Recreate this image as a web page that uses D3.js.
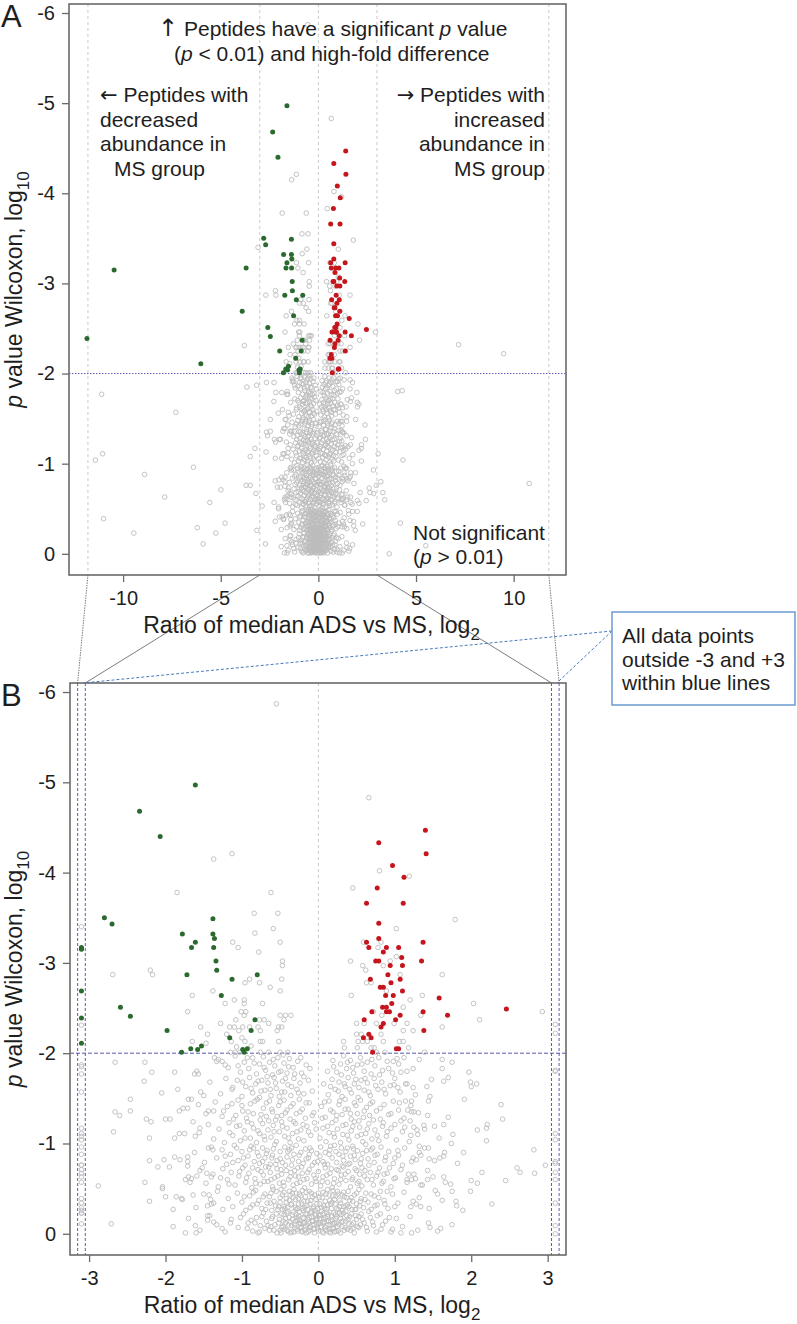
<!DOCTYPE html>
<html><head><meta charset="utf-8">
<script src="https://cdn.jsdelivr.net/npm/d3@7"></script>
<style>
body{margin:0;background:#fff}
text{font-family:"Liberation Sans",Arial,Helvetica,sans-serif;fill:#1e1e1e}
</style>
</head><body>
<svg id="chart" width="797" height="1324"></svg>
<script>
// ---------- DATA (x = log2 ratio ADS vs MS, y = log10 p value) ----------
const greenPoints = [
[-1.61,-4.97],[-2.34,-4.68],[-2.07,-4.40],[-2.80,-3.50],[-2.70,-3.43],[-1.38,-3.49],[-1.78,-3.32],[-1.38,-3.32],
[-1.36,-3.27],[-1.61,-3.23],[-1.66,-3.17],[-1.37,-3.17],[-1.34,-3.02],[-1.33,-2.92],[-1.72,-2.87],[-1.13,-2.82],
[-0.80,-2.87],[-1.27,-2.64],[-2.59,-2.51],[-2.46,-2.41],[-0.83,-2.37],[-0.88,-2.25],[-1.98,-2.25],[-1.16,-2.17],
[-1.53,-2.08],[-1.67,-2.05],[-1.58,-2.04],[-1.79,-2.01],[-0.99,-2.04],[-0.93,-2.05],[-0.97,-2.01],
[-11.85,-2.39],[-10.46,-3.15],[-6.02,-2.11],[-3.70,-3.17],[-3.90,-2.69]
];
const redPoints = [
[1.40,-4.47],[0.79,-4.33],[1.41,-4.21],[0.97,-4.08],[1.12,-3.95],[0.77,-3.83],[0.63,-3.66],[1.11,-3.66],
[0.79,-3.44],[0.79,-3.27],[0.63,-3.23],[1.37,-3.23],[0.66,-3.17],[0.89,-3.17],[1.05,-3.17],[0.85,-3.12],
[1.09,-3.06],[0.75,-3.02],[0.79,-3.02],[1.35,-3.02],[0.94,-2.97],[1.10,-2.97],[0.91,-2.87],[0.68,-2.82],
[1.07,-2.82],[0.95,-2.78],[0.81,-2.73],[0.85,-2.73],[1.10,-2.69],[0.88,-2.64],[0.98,-2.64],[1.58,-2.61],
[0.96,-2.55],[2.46,-2.49],[0.84,-2.51],[0.89,-2.51],[0.70,-2.46],[0.89,-2.46],[0.93,-2.46],[1.37,-2.46],
[1.07,-2.42],[1.69,-2.42],[0.60,-2.37],[1.01,-2.37],[0.85,-2.33],[0.82,-2.29],[1.38,-2.25],[0.66,-2.21],
[0.59,-2.17],[0.69,-2.17],[1.02,-2.05],[1.05,-2.05],[0.71,-2.01]
];
const greyOutliers = [
[-11.42,-1.04],[-11.05,-1.11],[-11.0,-0.39],[-11.1,-1.77],[-7.3,-1.57],[-6.4,-0.96],[-8.9,-0.88],[-7.87,-0.63],
[-4.99,-0.71],[-5.56,-0.57],[-4.78,-0.34],[-5.25,-0.23],[-6.2,-0.29],[-5.9,-0.11],[-9.45,-0.23],[-3.7,-0.76],
[-3.49,-0.76],[-3.49,-1.08],[-3.25,-1.17],[-3.66,-1.85],[-3.16,-1.87],[-3.79,-2.31],[-3.09,-3.4],[-3.2,-0.67],
[-3.15,-0.26],
[4.06,-1.8],[4.29,-1.81],[7.18,-2.32],[9.49,-2.22],[4.33,-1.04],[3.06,-1.11],[3.4,-0.6],[4.2,-0.34],[3.63,0],
[5.5,-0.09],[10.8,-0.78],[3.2,-0.8],[3.3,-0.68]
];
const greyUpper = [
[-0.55,-5.87],[-1.13,-4.21],[-1.37,-4.15],[-1.85,-3.78],[-0.62,-3.78],[-0.84,-3.55],[-0.53,-3.55],[-0.59,-3.38],
[-0.83,-3.33],[-0.5,-3.23],[-1.12,-3.23],[-1.05,-3.17],[-0.78,-3.12],[-0.47,-3.02],[-0.47,-2.97],[-2.69,-2.87],
[-2.2,-2.92],[-2.17,-2.87],[-0.48,-2.82],[-0.96,-2.78],[-0.9,-2.82],[-0.77,-2.78],[-0.63,-2.73],[-0.5,-2.69],
[-1.38,-2.69],[-1.65,-2.64],[-1.22,-2.55],[-1.1,-2.59],[-0.97,-2.59],[-0.97,-2.55],[-0.73,-2.55],[-1.71,-2.46],
[-1.01,-2.46],[-0.95,-2.46],[-0.97,-2.42],[-0.5,-2.42],[-0.43,-2.42],[-0.36,-2.42],[-0.45,-2.37],[-0.77,-2.37],
[-0.71,-2.37],[-1.08,-2.37],[-1.28,-2.33],[-1.16,-2.29],[-1.1,-2.29],[-0.99,-2.29],[-0.9,-2.29],[-0.79,-2.29],
[-0.65,-2.33],[-1.54,-2.29],[-0.52,-2.29],[-0.48,-2.29],[-1.04,-2.25],[-0.76,-2.25],[-0.54,-2.25],[-1.45,-2.21],
[-1.2,-2.21],[-1.14,-2.13],[-1.0,-2.17],[-0.96,-2.13],[-0.76,-2.13],[-0.73,-2.13],[-0.52,-2.13],[-1.65,-2.13],
[-1.47,-2.11],[-1.07,-2.07],[-0.88,-2.08],[-1.15,-2.01],[-1.09,-2.01],[-1.03,-2.01],[-0.76,-2.01],[-0.65,-2.01],
[-0.5,-2.01],[-0.4,-2.01],
[0.66,-4.83],[0.8,-4.02],[1.19,-3.96],[0.45,-3.83],[1.79,-3.48],[1.02,-3.38],[0.59,-3.23],[0.78,-3.17],
[0.82,-3.23],[0.42,-3.02],[0.94,-3.02],[1.02,-3.07],[0.58,-2.97],[0.62,-2.92],[0.85,-2.97],[1.62,-2.87],
[1.07,-2.87],[0.63,-2.78],[0.69,-2.78],[0.43,-2.64],[0.89,-2.69],[1.36,-2.64],[1.2,-2.59],[2.03,-2.55],
[2.93,-2.46],[2.11,-2.37],[1.11,-2.51],[0.72,-2.46],[0.83,-2.42],[1.34,-2.42],[0.5,-2.33],[0.6,-2.33],
[0.76,-2.33],[0.99,-2.33],[1.16,-2.33],[1.62,-2.29],[1.11,-2.25],[1.24,-2.25],[0.5,-2.21],[0.56,-2.21],
[0.82,-2.21],[0.33,-2.13],[0.52,-2.13],[0.58,-2.13],[0.64,-2.13],[0.85,-2.13],[1.06,-2.13],[1.11,-2.13],
[0.34,-2.06],[0.51,-2.06],[0.69,-2.06],[0.73,-2.06],[1.18,-2.06],[1.39,-2.01],[0.87,-2.01],[0.76,-2.01]
];
const greySparse = [
[-2.66,-1.9],[-2.27,-1.9],[-2.18,-1.79],[-1.88,-1.79],[-2.28,-1.69],[-2.05,-1.56],[-1.84,-1.6],[-2.46,-1.49],
[-2.46,-1.36],[-2.66,-1.35],[-2.6,-1.31],[-2.68,-1.13],[-2.25,-1.27],[-2.19,-1.24],[-2.0,-1.27],[-1.94,-1.27],
[-2.21,-1.06],[-2.88,-0.53],[-2.71,-0.11],[-2.21,-0.81],[-2.27,-0.57],[-2.21,-0.36],[-2.1,-0.74],[-2.02,-0.82],
[-1.95,-0.74],[-2.04,-0.52],[-2.04,-0.5],[-2.0,-0.41],[-1.86,-0.41],[-1.79,-0.39],[-1.9,-0.27],[-1.74,-0.01],
[-1.61,-0.09],[-1.6,-0.01],[-1.88,-1.06],[-1.88,-0.85],[-1.81,-0.82],[-1.71,-0.85],[-1.82,-1.11],[-1.75,-1.11],
[-1.82,-1.36],[-1.77,-1.39],[-1.71,-1.39],[-1.7,-1.49],[-1.66,-1.49],[-1.64,-1.24],[-1.57,-1.43],[-1.55,-1.17],
[-1.61,-1.08],[-1.71,-0.8],[-1.71,-0.75],[-1.66,-0.61],[-1.59,-0.64],[-1.74,-0.6],[-1.68,-0.57],[-1.64,-0.43],
[-1.52,-0.73],[-1.54,-1.57],[-1.5,-1.53],[-1.62,-1.77],[-1.59,-1.8],[-1.57,-1.77],[-1.44,-1.36],[-1.37,-1.36],
[-1.44,-0.95],[-1.38,-0.93],[-1.46,-0.67],[-1.4,-0.63],[-1.43,-0.43],[-1.41,-0.38],[-1.45,-0.31],[-1.45,-0.2],
[-1.45,-0.15],[-1.37,-0.34],[-1.37,-0.13],[-1.26,-0.06],[-1.15,-0.12],[-1.36,-1.95],[-1.33,-1.91],[-1.26,-1.91],
[-1.22,-1.87],
[1.97,-1.79],[1.99,-1.68],[2.07,-1.66],[2.0,-1.63],[2.39,-1.43],[2.41,-1.27],[1.91,-1.49],[1.75,-1.9],
[1.62,-1.93],[1.62,-1.83],[1.7,-1.73],[1.64,-1.69],[1.48,-1.71],[1.42,-1.63],[1.46,-1.52],[1.44,-1.47],
[1.32,-1.93],[1.24,-1.83],[1.7,-1.29],[1.64,-1.21],[1.52,-1.19],[1.43,-1.31],[1.39,-1.16],[1.58,-1.06],
[1.76,-1.1],[1.74,-1.0],[1.9,-0.9],[1.65,-0.9],[1.64,-0.86],[1.59,-0.84],[1.52,-0.81],[1.82,-0.78],
[2.08,-1.15],[2.2,-1.17],[2.2,-1.03],[2.21,-1.21],[2.82,-0.93],[2.97,-0.76],[2.6,-0.73],[2.64,-0.68],
[2.83,-0.67],[2.45,-0.59],[2.14,-0.68],[2.0,-0.59],[2.08,-0.56],[1.99,-0.47],[2.27,-0.33],[1.8,-0.36],
[1.81,-0.31],[1.89,-0.26],[1.64,-0.63],[1.73,-0.55],[1.66,-0.57],[1.53,-0.48],[1.56,-0.44],[1.75,-0.47],
[1.43,-0.7],[1.43,-0.6],[1.46,-0.07],[1.56,-0.03],[1.75,-0.1],[1.08,-0.01],[1.22,-0.01],[1.24,-0.36],
[1.28,-0.33],[1.34,-0.3],[1.16,-0.6],[1.22,-0.6],[1.27,-0.61],[1.34,-0.54],[1.24,-0.84],[1.28,-0.82],
[1.34,-0.87],[1.39,-0.95],[1.44,-0.95],[1.32,-0.97],[1.21,-1.09],[1.25,-1.18],[1.29,-1.15],[1.08,-1.25],
[1.2,-1.25],[1.14,-1.47],[1.22,-1.47],[1.22,-1.35],[1.25,-1.35],[1.24,-1.62],[1.14,-1.66],[1.04,-1.62],
[1.08,-1.79],[0.98,-1.91],[1.12,-1.95]
];
const greyCore = [
[-1.31,-1.93],[-1.18,-1.84],[-1.09,-1.97],[-1.02,-1.79],[-0.97,-1.9],[-0.91,-1.83],[-0.86,-1.95],[-0.81,-1.77],
[-0.77,-1.88],[-0.72,-1.96],[-0.69,-1.81],[-0.64,-1.9],[-0.6,-1.76],[-0.57,-1.86],[-0.53,-1.95],[-0.49,-1.8],
[-0.45,-1.89],[-0.41,-1.78],[-0.38,-1.94],[-0.33,-1.84],[-0.27,-1.91],[-0.22,-1.78],[-0.16,-1.87],
[0.12,-1.8],[0.19,-1.92],[0.24,-1.79],[0.29,-1.88],[0.33,-1.97],[0.37,-1.83],[0.42,-1.92],[0.46,-1.78],
[0.51,-1.87],[0.55,-1.95],[0.6,-1.8],[0.64,-1.9],[0.69,-1.77],[0.74,-1.86],[0.79,-1.95],[0.84,-1.81],
[0.9,-1.91],[0.97,-1.78],[1.05,-1.88],[1.16,-1.8],
[-1.42,-1.68],[-1.28,-1.55],[-1.21,-1.72],[-1.13,-1.6],[-1.06,-1.7],[-1.0,-1.52],[-0.95,-1.63],[-0.9,-1.73],
[-0.86,-1.56],[-0.82,-1.66],[-0.77,-1.51],[-0.74,-1.7],[-0.7,-1.59],[-0.66,-1.67],[-0.62,-1.53],[-0.58,-1.73],
[-0.55,-1.61],[-0.51,-1.52],[-0.47,-1.69],[-0.44,-1.57],[-0.4,-1.65],[-0.36,-1.53],[-0.32,-1.72],[-0.28,-1.6],
[-0.24,-1.67],[-0.19,-1.55],[-0.13,-1.7],[-0.08,-1.58],
[0.07,-1.66],[0.13,-1.54],[0.18,-1.71],[0.22,-1.6],[0.27,-1.68],[0.31,-1.52],[0.35,-1.63],[0.39,-1.73],
[0.43,-1.56],[0.47,-1.66],[0.52,-1.51],[0.56,-1.7],[0.6,-1.59],[0.64,-1.67],[0.68,-1.53],[0.73,-1.72],
[0.78,-1.6],[0.83,-1.68],[0.88,-1.55],[0.94,-1.64],[1.0,-1.72],[1.07,-1.57],[1.16,-1.66],[1.27,-1.54],
[-1.47,-1.33],[-1.35,-1.46],[-1.26,-1.3],[-1.19,-1.41],[-1.11,-1.27],[-1.05,-1.48],[-0.99,-1.36],[-0.94,-1.28],
[-0.89,-1.44],[-0.85,-1.33],[-0.8,-1.49],[-0.76,-1.26],[-0.72,-1.39],[-0.68,-1.3],[-0.64,-1.47],[-0.6,-1.35],
[-0.56,-1.26],[-0.52,-1.42],[-0.48,-1.31],[-0.45,-1.48],[-0.41,-1.37],[-0.37,-1.27],[-0.33,-1.44],[-0.29,-1.33],
[-0.25,-1.49],[-0.21,-1.38],[-0.17,-1.28],[-0.12,-1.45],[-0.06,-1.34],
[0.04,-1.41],[0.09,-1.29],[0.14,-1.47],[0.19,-1.35],[0.23,-1.26],[0.27,-1.43],[0.31,-1.32],[0.35,-1.49],
[0.39,-1.38],[0.43,-1.27],[0.47,-1.45],[0.51,-1.33],[0.55,-1.48],[0.59,-1.29],[0.63,-1.4],[0.67,-1.31],
[0.71,-1.46],[0.76,-1.36],[0.81,-1.27],[0.86,-1.43],[0.92,-1.32],[0.98,-1.47],[1.05,-1.37],[1.12,-1.28],
[1.21,-1.42],[1.31,-1.34],
[-1.56,-1.12],[-1.44,-1.21],[-1.37,-1.05],[-1.3,-1.16],[-1.23,-1.01],[-1.17,-1.23],[-1.12,-1.09],[-1.07,-1.19],
[-1.02,-1.03],[-0.97,-1.14],[-0.93,-1.24],[-0.89,-1.06],[-0.85,-1.17],[-0.81,-1.01],[-0.77,-1.11],[-0.73,-1.22],
[-0.7,-1.04],[-0.66,-1.15],[-0.62,-1.07],[-0.59,-1.2],[-0.55,-1.02],[-0.51,-1.13],[-0.48,-1.24],[-0.44,-1.08],
[-0.41,-1.17],[-0.37,-1.01],[-0.34,-1.11],[-0.3,-1.22],[-0.26,-1.05],[-0.23,-1.15],[-0.19,-1.03],[-0.15,-1.19],
[-0.1,-1.09],[-0.05,-1.23],
[0.02,-1.06],[0.06,-1.17],[0.1,-1.02],[0.14,-1.12],[0.18,-1.23],[0.21,-1.07],[0.25,-1.16],[0.29,-1.01],
[0.32,-1.1],[0.36,-1.21],[0.4,-1.04],[0.43,-1.14],[0.47,-1.24],[0.51,-1.08],[0.54,-1.18],[0.58,-1.02],
[0.62,-1.11],[0.66,-1.22],[0.7,-1.05],[0.74,-1.15],[0.79,-1.03],[0.84,-1.19],[0.89,-1.08],[0.95,-1.17],
[1.02,-1.04],[1.1,-1.13],[1.19,-1.02],[1.3,-1.1],[1.38,-1.2],
[-1.62,-0.9],[-1.49,-0.79],[-1.4,-0.96],[-1.33,-0.84],[-1.26,-0.93],[-1.2,-0.77],[-1.15,-0.88],[-1.1,-0.98],
[-1.05,-0.81],[-1.0,-0.91],[-0.96,-0.76],[-0.92,-0.86],[-0.88,-0.97],[-0.84,-0.8],[-0.8,-0.9],[-0.77,-0.78],
[-0.73,-0.95],[-0.7,-0.84],[-0.67,-0.92],[-0.63,-0.77],[-0.6,-0.87],[-0.57,-0.99],[-0.54,-0.81],[-0.5,-0.91],
[-0.47,-0.79],[-0.44,-0.96],[-0.41,-0.85],[-0.38,-0.93],[-0.35,-0.76],[-0.32,-0.88],[-0.29,-0.98],[-0.26,-0.8],
[-0.23,-0.9],[-0.2,-0.78],[-0.17,-0.94],[-0.13,-0.84],[-0.09,-0.92],[-0.05,-0.79],[-0.02,-0.89],
[0.03,-0.96],[0.06,-0.8],[0.09,-0.9],[0.12,-0.77],[0.15,-0.93],[0.18,-0.84],[0.21,-0.98],[0.24,-0.79],
[0.27,-0.88],[0.3,-0.95],[0.33,-0.81],[0.36,-0.91],[0.39,-0.77],[0.42,-0.86],[0.45,-0.97],[0.48,-0.82],
[0.51,-0.92],[0.55,-0.78],[0.58,-0.89],[0.62,-0.99],[0.65,-0.83],[0.69,-0.93],[0.73,-0.79],[0.77,-0.88],
[0.82,-0.96],[0.87,-0.81],[0.92,-0.91],[0.98,-0.78],[1.05,-0.87],[1.13,-0.95],[1.22,-0.8],[1.32,-0.9],[1.45,-0.83],
[-1.7,-0.63],[-1.55,-0.7],[-1.47,-0.56],[-1.38,-0.66],[-1.31,-0.52],[-1.25,-0.72],[-1.19,-0.6],[-1.14,-0.68],
[-1.09,-0.54],[-1.04,-0.64],[-0.99,-0.73],[-0.95,-0.57],[-0.91,-0.67],[-0.87,-0.51],[-0.83,-0.61],[-0.79,-0.71],
[-0.76,-0.55],[-0.72,-0.65],[-0.69,-0.74],[-0.66,-0.58],[-0.63,-0.68],[-0.6,-0.52],[-0.57,-0.62],[-0.54,-0.72],
[-0.51,-0.56],[-0.48,-0.66],[-0.45,-0.53],[-0.42,-0.7],[-0.39,-0.6],[-0.36,-0.68],[-0.33,-0.54],[-0.3,-0.64],
[-0.27,-0.73],[-0.24,-0.57],[-0.21,-0.67],[-0.18,-0.51],[-0.15,-0.61],[-0.12,-0.71],[-0.09,-0.55],[-0.06,-0.65],
[-0.03,-0.58],
[0.0,-0.69],[0.03,-0.53],[0.06,-0.63],[0.09,-0.73],[0.12,-0.57],[0.15,-0.67],[0.18,-0.51],[0.21,-0.61],
[0.24,-0.71],[0.27,-0.55],[0.3,-0.65],[0.33,-0.74],[0.36,-0.59],[0.39,-0.69],[0.42,-0.52],[0.45,-0.62],
[0.48,-0.72],[0.51,-0.56],[0.54,-0.66],[0.57,-0.53],[0.61,-0.7],[0.64,-0.6],[0.68,-0.68],[0.72,-0.54],
[0.76,-0.64],[0.8,-0.73],[0.85,-0.58],[0.9,-0.67],[0.95,-0.52],[1.01,-0.62],[1.08,-0.71],[1.16,-0.57],
[1.25,-0.66],[1.36,-0.54],[1.5,-0.63],
[-1.78,-0.38],[-1.6,-0.29],[-1.5,-0.44],[-1.4,-0.33],[-1.32,-0.47],[-1.25,-0.27],[-1.18,-0.39],[-1.12,-0.3],
[-1.06,-0.45],[-1.0,-0.35],[-0.95,-0.26],[-0.9,-0.42],[-0.86,-0.32],[-0.82,-0.48],[-0.78,-0.37],[-0.74,-0.28],
[-0.7,-0.44],[-0.67,-0.34],[-0.64,-0.41],[-0.61,-0.26],[-0.58,-0.36],[-0.55,-0.47],[-0.52,-0.3],[-0.5,-0.4],
[-0.47,-0.27],[-0.45,-0.46],[-0.42,-0.35],[-0.4,-0.29],[-0.37,-0.43],[-0.35,-0.33],[-0.32,-0.49],[-0.3,-0.38],
[-0.27,-0.28],[-0.25,-0.44],[-0.22,-0.34],[-0.2,-0.26],[-0.17,-0.41],[-0.15,-0.31],[-0.12,-0.47],[-0.1,-0.37],
[-0.07,-0.28],[-0.05,-0.43],[-0.02,-0.33],
[-0.62,-0.45],[-0.56,-0.31],[-0.49,-0.49],[-0.44,-0.28],[-0.38,-0.37],[-0.34,-0.45],[-0.29,-0.27],[-0.26,-0.39],
[-0.21,-0.48],[-0.18,-0.29],[-0.14,-0.36],[-0.09,-0.45],[-0.04,-0.26],
[0.01,-0.4],[0.04,-0.29],[0.06,-0.46],[0.09,-0.36],[0.11,-0.27],[0.14,-0.43],[0.16,-0.33],[0.19,-0.48],
[0.21,-0.38],[0.24,-0.28],[0.26,-0.44],[0.29,-0.34],[0.31,-0.26],[0.34,-0.41],[0.36,-0.31],[0.39,-0.47],
[0.41,-0.37],[0.44,-0.27],[0.47,-0.43],[0.5,-0.33],[0.53,-0.49],[0.56,-0.39],[0.59,-0.29],[0.62,-0.45],
[0.65,-0.35],[0.69,-0.27],[0.73,-0.42],[0.77,-0.32],[0.81,-0.47],[0.86,-0.37],[0.91,-0.28],[0.97,-0.44],
[1.04,-0.34],[1.12,-0.46],[1.21,-0.3],[1.32,-0.4],[1.45,-0.28],[1.62,-0.37],
[0.07,-0.31],[0.12,-0.49],[0.18,-0.35],[0.23,-0.42],[0.28,-0.3],[0.33,-0.46],[0.38,-0.32],[0.43,-0.4],
[0.49,-0.27],[0.55,-0.36],
[-1.9,-0.08],[-1.7,-0.17],[-1.55,-0.04],[-1.42,-0.2],[-1.33,-0.1],[-1.22,-0.02],[-1.14,-0.16],[-1.05,-0.07],
[-0.98,-0.22],[-0.92,-0.12],[-0.86,-0.03],[-0.81,-0.18],[-0.76,-0.09],[-0.72,-0.23],[-0.68,-0.14],[-0.64,-0.04],
[-0.6,-0.19],[-0.57,-0.1],[-0.54,-0.01],[-0.51,-0.16],[-0.48,-0.07],[-0.45,-0.21],[-0.43,-0.12],[-0.4,-0.03],
[-0.38,-0.18],[-0.35,-0.09],[-0.33,-0.24],[-0.3,-0.14],[-0.28,-0.05],[-0.26,-0.2],[-0.23,-0.11],[-0.21,-0.02],
[-0.19,-0.17],[-0.17,-0.08],[-0.15,-0.22],[-0.13,-0.13],[-0.11,-0.04],[-0.09,-0.19],[-0.07,-0.1],[-0.05,-0.01],
[-0.03,-0.15],[-0.01,-0.06],
[-0.62,-0.08],[-0.55,-0.22],[-0.5,-0.04],[-0.46,-0.14],[-0.41,-0.23],[-0.37,-0.01],[-0.34,-0.16],[-0.31,-0.07],
[-0.29,-0.21],[-0.25,-0.12],[-0.22,-0.03],[-0.2,-0.18],[-0.18,-0.12],[-0.16,-0.01],[-0.14,-0.16],[-0.12,-0.07],
[-0.1,-0.23],[-0.08,-0.14],[-0.06,-0.05],[-0.04,-0.2],[-0.02,-0.11],[-0.24,-0.07],[-0.27,-0.15],[-0.32,-0.02],
[-0.39,-0.1],[-0.44,-0.05],[-0.7,-0.06],[-0.79,-0.01],[-0.88,-0.15],
[0.0,-0.03],[0.02,-0.17],[0.04,-0.08],[0.06,-0.22],[0.08,-0.13],[0.1,-0.04],[0.12,-0.19],[0.14,-0.1],
[0.16,-0.01],[0.18,-0.15],[0.2,-0.06],[0.22,-0.21],[0.24,-0.12],[0.26,-0.03],[0.29,-0.17],[0.31,-0.08],
[0.33,-0.23],[0.36,-0.14],[0.38,-0.05],[0.41,-0.19],[0.44,-0.1],[0.47,-0.01],[0.5,-0.16],[0.53,-0.07],
[0.56,-0.22],[0.6,-0.12],[0.64,-0.03],[0.68,-0.18],[0.72,-0.09],[0.77,-0.2],[0.82,-0.05],[0.88,-0.14],
[0.95,-0.02],[1.02,-0.17],[1.1,-0.08],[1.2,-0.19],[1.3,-0.04],[1.44,-0.12],[1.6,-0.06],
[0.01,-0.12],[0.03,-0.21],[0.05,-0.02],[0.07,-0.16],[0.09,-0.07],[0.11,-0.24],[0.13,-0.14],[0.15,-0.05],
[0.17,-0.2],[0.19,-0.11],[0.21,-0.02],[0.23,-0.17],[0.25,-0.08],[0.28,-0.23],[0.3,-0.13],[0.34,-0.04],
[0.37,-0.2],[0.4,-0.11],[0.45,-0.06],[0.49,-0.2],[0.55,-0.1]
];
const greyDense = [
[-1.12,-1.62],[-1.05,-1.86],[-0.99,-1.68],[-0.93,-1.95],[-0.88,-1.61],[-0.84,-1.89],[-0.79,-1.69],[-0.75,-1.58],
[-0.71,-1.84],[-0.67,-1.74],[-0.63,-1.6],[-0.59,-1.93],[-0.56,-1.67],[-0.52,-1.79],[-0.48,-1.57],[-0.46,-1.98],
[-0.43,-1.72],[-0.39,-1.85],[-0.35,-1.63],[-0.31,-1.77],[-0.26,-1.56],[-0.23,-1.95],[-0.19,-1.74],[-0.11,-1.83],
[0.16,-1.63],[0.2,-1.85],[0.26,-1.58],[0.3,-1.76],[0.34,-1.66],[0.38,-1.9],[0.41,-1.6],[0.45,-1.84],
[0.49,-1.71],[0.53,-1.62],[0.57,-1.88],[0.61,-1.72],[0.66,-1.57],[0.7,-1.93],[0.75,-1.64],[0.8,-1.76],
[0.86,-1.6],[0.92,-1.83],[0.99,-1.65],[1.03,-1.94],
[-1.24,-1.36],[-1.16,-1.12],[-1.13,-1.44],[-1.08,-1.31],[-1.03,-1.2],[-1.0,-1.42],[-0.96,-1.06],[-0.92,-1.35],
[-0.87,-1.22],[-0.83,-1.47],[-0.79,-1.14],[-0.75,-1.32],[-0.71,-1.08],[-0.68,-1.45],[-0.65,-1.25],[-0.61,-1.38],
[-0.58,-1.13],[-0.54,-1.3],[-0.5,-1.46],[-0.47,-1.19],[-0.43,-1.34],[-0.39,-1.06],[-0.36,-1.41],[-0.32,-1.24],
[-0.28,-1.13],[-0.24,-1.35],[-0.2,-1.21],[-0.16,-1.45],[-0.13,-1.13],[-0.08,-1.31],[-0.03,-1.16],
[0.05,-1.28],[0.08,-1.46],[0.12,-1.19],[0.16,-1.37],[0.2,-1.11],[0.24,-1.31],[0.28,-1.47],[0.32,-1.2],
[0.35,-1.38],[0.38,-1.09],[0.42,-1.33],[0.45,-1.19],[0.49,-1.42],[0.53,-1.25],[0.56,-1.1],[0.6,-1.36],
[0.64,-1.16],[0.68,-1.44],[0.72,-1.26],[0.77,-1.09],[0.81,-1.39],[0.85,-1.23],[0.9,-1.13],[0.95,-1.33],
[1.0,-1.21],[1.06,-1.45],[1.13,-1.18],[1.17,-1.37],
[-1.28,-0.62],[-1.22,-0.86],[-1.17,-0.55],[-1.12,-0.79],[-1.07,-0.95],[-1.03,-0.69],[-0.98,-0.84],[-0.94,-0.62],
[-0.9,-0.93],[-0.86,-0.73],[-0.82,-0.56],[-0.78,-0.86],[-0.75,-0.69],[-0.71,-0.58],[-0.68,-0.89],[-0.65,-0.74],
[-0.62,-0.6],[-0.59,-0.94],[-0.56,-0.77],[-0.53,-0.64],[-0.5,-0.83],[-0.46,-0.57],[-0.43,-0.76],[-0.4,-0.91],
[-0.37,-0.63],[-0.34,-0.82],[-0.31,-0.7],[-0.28,-0.56],[-0.25,-0.87],[-0.22,-0.74],[-0.19,-0.6],[-0.16,-0.83],
[-0.14,-0.68],[-0.11,-0.95],[-0.08,-0.76],[-0.04,-0.61],[-0.01,-0.8],
[-0.85,-0.95],[-0.73,-0.8],[-0.61,-0.84],[-0.49,-0.71],[-0.35,-0.95],[-0.26,-0.63],[-0.12,-0.88],
[0.02,-0.86],[0.05,-0.58],[0.08,-0.77],[0.11,-0.65],[0.14,-0.88],[0.17,-0.72],[0.2,-0.56],[0.23,-0.91],
[0.26,-0.7],[0.29,-0.6],[0.32,-0.86],[0.35,-0.66],[0.38,-0.95],[0.41,-0.78],[0.44,-0.6],[0.47,-0.87],
[0.5,-0.7],[0.53,-0.58],[0.56,-0.83],[0.6,-0.64],[0.63,-0.92],[0.66,-0.76],[0.7,-0.6],[0.74,-0.87],
[0.78,-0.68],[0.83,-0.56],[0.88,-0.85],[0.93,-0.73],[0.99,-0.61],[1.04,-0.92],[1.1,-0.76],[1.18,-0.66],
[0.16,-0.97],[0.31,-0.75],[0.46,-0.94],[0.57,-0.73],[0.71,-0.95],[0.86,-0.66],[1.0,-0.84],
[-1.02,-0.18],[-0.97,-0.41],[-0.93,-0.06],[-0.89,-0.29],[-0.85,-0.46],[-0.83,-0.12],[-0.8,-0.33],[-0.77,-0.02],
[-0.74,-0.19],[-0.72,-0.41],[-0.69,-0.27],[-0.66,-0.09],[-0.63,-0.34],[-0.61,-0.17],[-0.59,-0.49],[-0.58,-0.04],
[0.58,-0.16],[0.61,-0.38],[0.63,-0.07],[0.66,-0.25],[0.69,-0.44],[0.71,-0.13],[0.74,-0.31],[0.76,-0.02],
[0.79,-0.4],[0.81,-0.22],[0.84,-0.1],[0.87,-0.33],[0.9,-0.47],[0.93,-0.18],[0.97,-0.05],[1.0,-0.3],
[-0.53,-0.27],[-0.52,-0.12],[-0.5,-0.35],[-0.49,-0.01],[-0.48,-0.22],[-0.47,-0.43],[-0.46,-0.08],[-0.45,-0.3],
[-0.43,-0.17],[-0.42,-0.39],[-0.41,-0.04],[-0.4,-0.25],[-0.38,-0.47],[-0.37,-0.13],[-0.36,-0.32],[-0.35,-0.02],
[-0.34,-0.21],[-0.33,-0.4],[-0.31,-0.1],[-0.3,-0.29],[-0.29,-0.45],[-0.28,-0.18],[-0.27,-0.03],[-0.26,-0.33],
[-0.25,-0.24],[-0.24,-0.15],[-0.23,-0.42],[-0.22,-0.07],[-0.21,-0.28],[-0.2,-0.12],[-0.19,-0.36],[-0.18,-0.04],
[-0.17,-0.22],[-0.16,-0.46],[-0.15,-0.1],[-0.14,-0.27],[-0.13,-0.02],[-0.12,-0.18],[-0.11,-0.33],[-0.1,-0.08],
[-0.09,-0.25],[-0.08,-0.41],[-0.07,-0.14],[-0.06,-0.3],[-0.05,-0.06],[-0.04,-0.22],[-0.03,-0.38],[-0.02,-0.17],
[-0.01,-0.28],[0.0,-0.11],[0.0,-0.45],
[0.01,-0.2],[0.02,-0.33],[0.03,-0.07],[0.04,-0.25],[0.05,-0.4],[0.06,-0.13],[0.07,-0.01],[0.08,-0.28],
[0.09,-0.18],[0.1,-0.44],[0.11,-0.09],[0.12,-0.32],[0.13,-0.21],[0.14,-0.02],[0.15,-0.37],[0.16,-0.14],
[0.17,-0.28],[0.18,-0.06],[0.19,-0.42],[0.2,-0.23],[0.21,-0.12],[0.22,-0.33],[0.23,-0.03],[0.24,-0.19],
[0.25,-0.47],[0.26,-0.27],[0.27,-0.1],[0.28,-0.37],[0.29,-0.01],[0.3,-0.21],[0.31,-0.43],[0.32,-0.14],
[0.33,-0.3],[0.35,-0.07],[0.36,-0.25],[0.37,-0.4],[0.39,-0.16],[0.4,-0.3],[0.42,-0.04],[0.43,-0.22],
[0.45,-0.36],[0.46,-0.12],[0.48,-0.27],[0.5,-0.45],[0.51,-0.08],[0.53,-0.19],[0.54,-0.31]
];
const xTicksA = [-10,-5,0,5,10];
const xTicksB = [-3,-2,-1,0,1,2,3];
const yTicks = [-6,-5,-4,-3,-2,-1,0];
const guideLinesA = [-11.8,-3,0,3,11.8];   // grey dashed verticals in panel A
const guideLinesB = [0];                   // grey dashed vertical in panel B
const clampLinesB = [-3.15,-3.05,3.05,3.15]; // blue dashed verticals in panel B
const zoomFromA = [-11.8,-3,3,11.8];       // connector lines A -> B
const zoomToB = [-3.15,-3.05,3.05,3.15];
const pCutoff = -2;
const clampValue = 3.1;
const calloutLines = ["All data points","outside -3 and +3","within blue lines"];
const calloutTargets = [-3.08,3.12];

// ---------- LAYOUT ----------
const svg = d3.select("#chart");
const yDomain = [-6.1, 0.235];
const xA = d3.scaleLinear().domain([-12.77,12.68]).range([69,566]);
const yA = d3.scaleLinear().domain(yDomain).range([4,575]);
const xB = d3.scaleLinear().domain([-3.25,3.24]).range([70,566]);
const yB = d3.scaleLinear().domain(yDomain).range([683,1255]);

const allGrey = greyOutliers.concat(greyUpper, greySparse, greyCore, greyDense);
const clampX = v => v > 3 ? clampValue : (v < -3 ? -clampValue : v);

const GREY = "#bcbcbc", GREEN = "#2b6a2f", RED = "#c4161c";
const TICKFS = 20, ANNFS = 21, TITLEFS = 23;
const ARROWFONT = '"DejaVu Sans",sans-serif';

function drawPanel(g, x, y, xt, opts){
  const [x0,x1] = x.range(), [y0,y1] = y.range();
  g.selectAll(".gl").data(opts.guides).join("line")
    .attr("x1", d=>x(d)).attr("x2", d=>x(d)).attr("y1", y0).attr("y2", y1)
    .attr("stroke", "#c9c9c9").attr("stroke-width", 1).attr("stroke-dasharray", "3,3");
  if (opts.clampLines) {
    g.selectAll(".cl").data(opts.clampLines).join("line")
      .attr("x1", d=>x(d)).attr("x2", d=>x(d)).attr("y1", y0).attr("y2", y1)
      .attr("stroke", "#5c5cae").attr("stroke-width", 1).attr("stroke-dasharray", "3,2");
  }
  g.append("line").attr("x1", x0).attr("x2", x1).attr("y1", y(pCutoff)).attr("y2", y(pCutoff))
    .attr("stroke", opts.cutColor).attr("stroke-width", 1).attr("stroke-dasharray", opts.cutDash);
  const fx = opts.clamp ? (d => x(clampX(d[0]))) : (d => x(d[0]));
  g.append("g").selectAll("circle").data(allGrey).join("circle")
    .attr("cx", fx).attr("cy", d=>y(d[1])).attr("r", 2.3)
    .attr("fill", "none").attr("stroke", GREY).attr("stroke-width", 0.9);
  g.append("g").selectAll("circle").data(greenPoints).join("circle")
    .attr("cx", fx).attr("cy", d=>y(d[1])).attr("r", 2.5).attr("fill", GREEN);
  g.append("g").selectAll("circle").data(redPoints).join("circle")
    .attr("cx", fx).attr("cy", d=>y(d[1])).attr("r", 2.5).attr("fill", RED);
  g.append("rect").attr("x", x0).attr("y", y0).attr("width", x1-x0).attr("height", y1-y0)
    .attr("fill", "none").attr("stroke", "#6a6a6a").attr("stroke-width", 1.6);
  const ax = g.append("g").attr("transform", `translate(0,${y1})`)
    .call(d3.axisBottom(x).tickValues(xt).tickFormat(d=>String(d)).tickSize(7).tickPadding(9));
  const ay = g.append("g").attr("transform", `translate(${x0},0)`)
    .call(d3.axisLeft(y).tickValues(yTicks).tickFormat(d=>String(d)).tickSize(7).tickPadding(7));
  [ax, ay].forEach(a => {
    a.select(".domain").remove();
    a.selectAll(".tick line").attr("stroke", "#6a6a6a").attr("stroke-width", 1.3);
    a.selectAll(".tick text").attr("font-size", TICKFS).attr("fill", "#1e1e1e")
      .attr("font-family", '"Liberation Sans",Arial,sans-serif');
  });
  const xtTxt = g.append("text").attr("x", (x0+x1)/2 - 6).attr("y", y1+58)
    .attr("text-anchor", "middle").attr("font-size", TITLEFS);
  xtTxt.append("tspan").text("Ratio of median ADS vs MS, log");
  xtTxt.append("tspan").text("2").attr("font-size", 17).attr("dy", 7);
  const ytTxt = g.append("text").attr("transform", `translate(22,${(y0+y1)/2}) rotate(-90)`)
    .attr("text-anchor", "middle").attr("font-size", TITLEFS);
  ytTxt.append("tspan").text("p").attr("font-style", "italic");
  ytTxt.append("tspan").text(" value Wilcoxon, log");
  ytTxt.append("tspan").text("10").attr("font-size", 17).attr("dy", 7);
  g.append("text").attr("x", 1).attr("y", y0+23).attr("font-size", 31).text(opts.letter);
}

const conn = svg.append("g");
conn.selectAll("line").data(zoomFromA).join("line")
  .attr("x1", d=>xA(d)).attr("y1", yA.range()[1])
  .attr("x2", (d,i)=>xB(zoomToB[i])).attr("y2", yB.range()[0])
  .attr("stroke", "#5a5a5a").attr("stroke-width", 0.8)
  .attr("stroke-dasharray", d => Math.abs(d) > 10 ? "1.5,1" : null);

drawPanel(svg.append("g"), xA, yA, xTicksA,
  {guides: guideLinesA, cutColor: "#5f5fbf", cutDash: "1.5,1.5", clamp: false, letter: "A"});
drawPanel(svg.append("g"), xB, yB, xTicksB,
  {guides: guideLinesB, clampLines: clampLinesB, cutColor: "#5757ab", cutDash: "4,2", clamp: true, letter: "B"});

// ---------- ANNOTATIONS (panel A) ----------
const ann = svg.append("g").attr("font-size", ANNFS);
const t1 = ann.append("text").attr("x", 158).attr("y", 36);
t1.append("tspan").text("\u2191").attr("font-family", ARROWFONT).attr("font-size", 24);
t1.append("tspan").text(" Peptides have a significant ");
t1.append("tspan").text("p").attr("font-style", "italic");
t1.append("tspan").text(" value");
const t2 = ann.append("text").attr("x", 174).attr("y", 61);
t2.append("tspan").text("(");
t2.append("tspan").text("p").attr("font-style", "italic");
t2.append("tspan").text(" < 0.01) and high-fold difference");
const arrowLeft = "\u2190", arrowRight = "\u2192";
const leftLines = ["Peptides with","decreased","abundance in","MS group"];
const rightLines = ["Peptides with","increased","abundance in","MS group"];
const blockY = [102,126.5,151,175.5];
ann.selectAll(".ll").data(leftLines).join("text")
  .attr("x", (d,i)=> i===3 ? 114 : 100).attr("y", (d,i)=>blockY[i])
  .each(function(d,i){
    const t = d3.select(this);
    if (i===0){ t.append("tspan").text(arrowLeft).attr("font-family", ARROWFONT); t.append("tspan").text(" "+d); }
    else t.text(d);
  });
ann.selectAll(".rl").data(rightLines).join("text")
  .attr("x", 545).attr("y", (d,i)=>blockY[i]).attr("text-anchor", "end")
  .each(function(d,i){
    const t = d3.select(this);
    if (i===0){ t.append("tspan").text(arrowRight).attr("font-family", ARROWFONT); t.append("tspan").text(" "+d); }
    else t.text(d);
  });
ann.append("text").attr("x", 413).attr("y", 540).text("Not significant");
const t3 = ann.append("text").attr("x", 413).attr("y", 564);
t3.append("tspan").text("(");
t3.append("tspan").text("p").attr("font-style", "italic");
t3.append("tspan").text(" > 0.01)");

// ---------- CALLOUT ----------
const cx0 = 612, cy0 = 612, cw = 183, ch = 93, cAnchorY = 631;
const call = svg.append("g");
call.selectAll("line").data(calloutTargets).join("line")
  .attr("x1", cx0).attr("y1", cAnchorY).attr("x2", d=>xB(d)).attr("y2", yB.range()[0])
  .attr("stroke", "#4a7bbd").attr("stroke-width", 1).attr("stroke-dasharray", "3,2");
call.append("rect").attr("x", cx0).attr("y", cy0).attr("width", cw).attr("height", ch)
  .attr("fill", "#fff").attr("stroke", "#6b9ad0").attr("stroke-width", 1.5);
call.selectAll("text").data(calloutLines).join("text")
  .attr("x", cx0+10).attr("y", (d,i)=> cy0 + 31 + i*23.5).attr("font-size", ANNFS).text(d=>d);
</script>
</body></html>
